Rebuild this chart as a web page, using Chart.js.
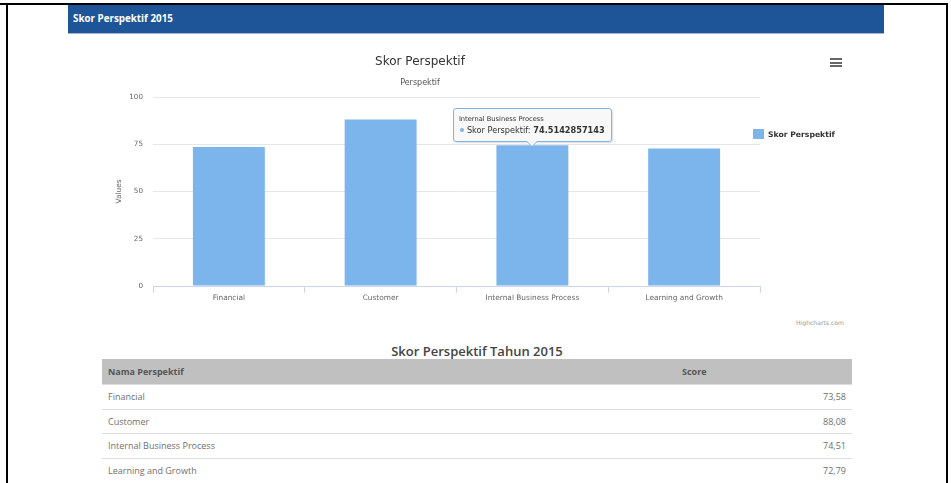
<!DOCTYPE html>
<html>
<head>
<meta charset="utf-8">
<script src="https://cdn.jsdelivr.net/npm/chart.js@4.4.1/dist/chart.umd.min.js"></script>
<style>
  body { margin: 0; background: #fff; width: 951px; height: 483px; overflow: hidden; position: relative; font-family: 'Open Sans', sans-serif; }
  #topline { position: absolute; left: 0; top: 3px; width: 948px; height: 2px; background: #000; }
  #frame { position: absolute; left: 6px; top: 3px; width: 938px; height: 490px; border-left: 2px solid #000; border-right: 2px solid #000; }
  #panelhead { position: absolute; left: 68px; top: 5px; width: 816px; height: 29px; background: #1e5598; border-bottom: 1px solid #a3b7d4; box-sizing: border-box; color: #fff; font-weight: bold; font-size: 9.8px; line-height: 27px; padding-left: 5px; }
  #chartbox { position: absolute; left: 80px; top: 45px; width: 764px; height: 270px; }
  #menu { position: absolute; left: 830px; top: 58px; width: 12px; }
  #menu div { height: 2px; background: #666; margin-bottom: 1.6px; }
  #legend { position: absolute; left: 753px; top: 128px; font-family: 'DejaVu Sans'; font-weight: bold; font-size: 7.7px; color: #333; }
  #legend .item { display: flex; align-items: center; height: 12px; }
  #legend .sw { width: 11px; height: 10px; margin-right: 4px; }
  #tip { position: absolute; display: none; background: rgba(247,247,247,0.9); border: 1px solid #7cb5ec; border-radius: 3px; padding: 6px 6px 5px 5px; box-shadow: 1px 1px 2px rgba(0,0,0,0.15); font-family: 'DejaVu Sans'; color: #333; white-space: nowrap; }
  #tip:before, #tip:after { content: ''; position: absolute; left: 50%; border-style: solid; border-color: transparent; }
  #tip:before { bottom: -6px; margin-left: -6px; border-width: 6px 6px 0 6px; border-top-color: #7cb5ec; }
  #tip:after { bottom: -4.5px; margin-left: -5px; border-width: 5px 5px 0 5px; border-top-color: #f7f7f7; }
  #tipTitle { font-size: 6.7px; line-height: 9px; }
  #tipBody { font-size: 8.2px; line-height: 12px; }
  #tipDot { display: inline-block; width: 4px; height: 4px; border-radius: 50%; margin: 0 3px 1px 1px; vertical-align: middle; }
  #tipVal { font-weight: bold; }
  #credit { position: absolute; right: 107px; top: 318px; font-family: 'DejaVu Sans'; font-size: 6.1px; color: #999; line-height: 10px; }
  #tableTitle { position: absolute; left: 102px; width: 750px; top: 341px; text-align: center; font-weight: 600; font-size: 13px; line-height: 20px; color: #444; }
  #scoreTable { position: absolute; left: 102px; top: 359px; width: 750px; border-collapse: collapse; font-size: 9px; color: #707070; }
  #scoreTable th { background: #c0c0c0; height: 25px; text-align: left; padding: 0 6px; font-weight: bold; color: #555; }
  #scoreTable td { height: 23.5px; padding: 0 6px; border-top: 1px solid #dcdcdc; }
  #scoreTable td.num { text-align: right; }
</style>
</head>
<body>
<div id="topline"></div>
<div id="frame"></div>
<div id="panelhead">Skor Perspektif 2015</div>

<div id="chartbox">
  <canvas id="scoreChart"></canvas>
  <div id="tip"><div id="tipTitle"></div><div id="tipBody"><span id="tipDot"></span><span id="tipName"></span><span id="tipVal"></span></div></div>
</div>
<div id="menu"><div></div><div></div><div></div></div>
<div id="legend"></div>
<div id="credit">Highcharts.com</div>

<div id="tableTitle">Skor Perspektif Tahun 2015</div>
<table id="scoreTable">
  <colgroup><col style="width:574px"><col style="width:176px"></colgroup>
  <thead><tr><th>Nama Perspektif</th><th>Score</th></tr></thead>
  <tbody id="rows"></tbody>
</table>

<script>
// data
var categories = ['Financial', 'Customer', 'Internal Business Process', 'Learning and Growth'];
var scores = [73.58, 88.08, 74.5142857143, 72.79];
var seriesName = 'Skor Perspektif';
var yTicks = [0, 25, 50, 75, 100];
var hoverIndex = 2;

var barColor = '#7cb5ec';
var chartFont = 'DejaVu Sans';

function drawTip(context) {
    var tip = context.tooltip;
    var box = document.getElementById('tip');
    if (tip.opacity === 0 || !tip.dataPoints || !tip.dataPoints.length) {
        box.style.display = 'none';
        return;
    }
    var dp = tip.dataPoints[0];
    document.getElementById('tipTitle').textContent = dp.label;
    document.getElementById('tipDot').style.background = dp.dataset.backgroundColor;
    document.getElementById('tipName').textContent = dp.dataset.label + ': ';
    document.getElementById('tipVal').textContent = String(dp.raw);
    box.style.display = 'block';
    var bar = dp.element;
    box.style.left = (bar.x - box.offsetWidth / 2) + 'px';
    box.style.top = (bar.y - box.offsetHeight - 3) + 'px';
}

var scoreCanvas = document.getElementById('scoreChart');

var scoreChart = new Chart(scoreCanvas, {
    type: 'bar',
    data: {
        labels: categories,
        datasets: [{
            label: seriesName,
            data: scores,
            backgroundColor: barColor,
            hoverBackgroundColor: barColor,
            borderWidth: 0,
            categoryPercentage: 0.6,
            barPercentage: 0.79
        }]
    },
    options: {
        responsive: true,
        maintainAspectRatio: false,
        animation: false,
        events: [],
        layout: {
            padding: { left: 0, right: 84, top: 0, bottom: 0 }
        },
        scales: {
            x: {
                grid: {
                    display: true,
                    drawOnChartArea: false,
                    drawTicks: true,
                    tickLength: 7,
                    color: '#ccd6eb',
                    offset: true
                },
                border: { display: true, color: '#ccd6eb', width: 1 },
                ticks: {
                    color: '#666',
                    padding: 1,
                    maxRotation: 0,
                    font: { family: chartFont, size: 7.4 }
                },
                afterFit: function (s) { s.height = 29; }
            },
            y: {
                min: 0,
                max: 100,
                afterBuildTicks: function (s) {
                    s.ticks = yTicks.map(function (v) { return { value: v }; });
                },
                grid: { color: '#e6e6e6', drawTicks: false },
                border: { display: false },
                ticks: {
                    color: '#666',
                    padding: 10,
                    font: { family: chartFont, size: 7.2 }
                },
                title: {
                    display: true,
                    text: 'Values',
                    color: '#666',
                    padding: { top: 35, bottom: 0 },
                    font: { family: chartFont, size: 7.4 }
                },
                afterFit: function (s) { s.width = 73; }
            }
        },
        plugins: {
            legend: { display: false },
            title: {
                display: true,
                text: 'Skor Perspektif',
                color: '#333',
                padding: { top: 10, bottom: 0 },
                font: { family: chartFont, size: 12, weight: 'normal' }
            },
            subtitle: {
                display: true,
                text: 'Perspektif',
                color: '#555',
                padding: { top: 9, bottom: 9 },
                font: { family: chartFont, size: 8 }
            },
            tooltip: {
                enabled: false,
                external: drawTip
            }
        }
    }
});

// legend built from the dataset
var legendBox = document.getElementById('legend');
scoreChart.data.datasets.forEach(function (ds) {
    var item = document.createElement('div');
    item.className = 'item';
    var sw = document.createElement('span');
    sw.className = 'sw';
    sw.style.background = ds.backgroundColor;
    var txt = document.createElement('span');
    txt.textContent = ds.label;
    item.appendChild(sw);
    item.appendChild(txt);
    legendBox.appendChild(item);
});

// hovered point tooltip
scoreChart.tooltip.setActiveElements([{ datasetIndex: 0, index: hoverIndex }], { x: 0, y: 0 });
scoreChart.update();

// table under the chart
var rows = document.getElementById('rows');
categories.forEach(function (c, i) {
    var tr = document.createElement('tr');
    var a = document.createElement('td');
    a.textContent = c;
    var b = document.createElement('td');
    b.className = 'num';
    b.textContent = scores[i].toFixed(2).replace('.', ',');
    tr.appendChild(a);
    tr.appendChild(b);
    rows.appendChild(tr);
});
</script>
</body>
</html>
